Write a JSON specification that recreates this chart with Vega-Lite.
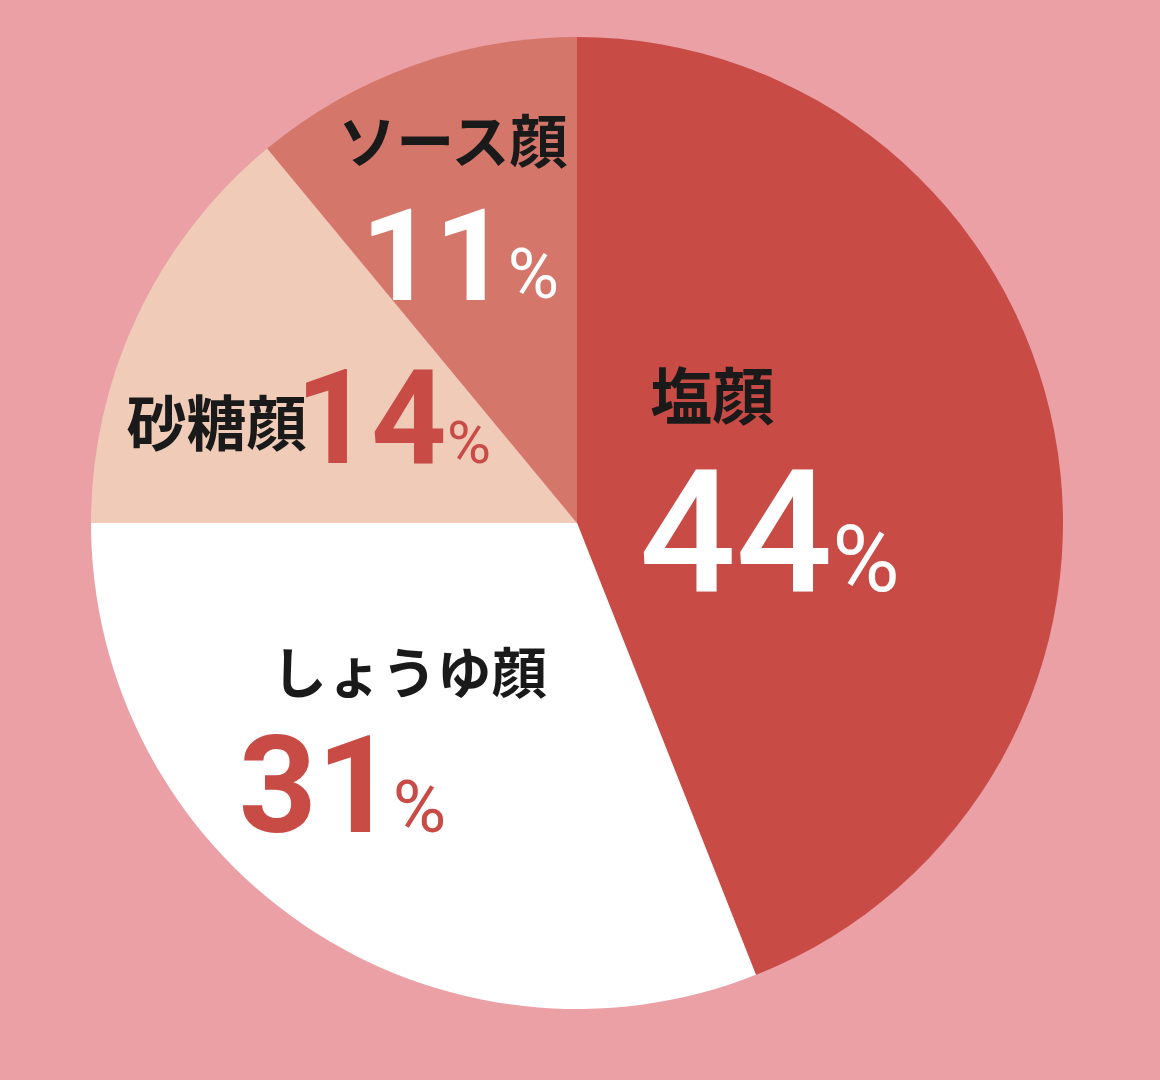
{
  "$schema": "https://vega.github.io/schema/vega-lite/v6.json",
  "width": 1160,
  "height": 1080,
  "autosize": {"type": "fit", "contains": "padding"},
  "padding": {"left": 0, "top": 0, "right": 6, "bottom": 34},
  "background": "#EBA0A6",
  "config": {"view": {"stroke": null}},
  "data": {
    "values": [
      {"category": "塩顔", "value": 44},
      {"category": "しょうゆ顔", "value": 31},
      {"category": "砂糖顔", "value": 14},
      {"category": "ソース顔", "value": 11}
    ]
  },
  "encoding": {
    "theta": {"field": "value", "type": "quantitative", "stack": true},
    "order": {"field": "value", "type": "quantitative", "sort": "descending"},
    "detail": {"field": "category", "type": "nominal"}
  },
  "layer": [
    {
      "mark": {"type": "arc", "outerRadius": 486},
      "encoding": {
        "color": {
          "field": "category",
          "type": "nominal",
          "scale": {
            "domain": ["塩顔", "しょうゆ顔", "砂糖顔", "ソース顔"],
            "range": ["#C94B46", "#FFFFFF", "#EFCBB8", "#D4776A"]
          },
          "legend": null
        }
      }
    },
    {
      "mark": {"type": "text", "radius": 155, "dx": -17, "dy": -93, "align": "center", "baseline": "middle", "font": "Noto Sans CJK JP", "fontWeight": "bold", "fontSize": 62, "color": "#1A1A1A"},
      "encoding": {"text": {"condition": {"test": "datum.category === '塩顔'", "field": "category", "type": "nominal"}, "value": ""}}
    },
    {
      "mark": {"type": "text", "radius": 145, "dx": 113, "dy": 95, "align": "right", "baseline": "alphabetic", "font": "Roboto", "fontWeight": 500, "fontSize": 170, "color": "#FFFFFF"},
      "encoding": {"text": {"condition": {"test": "datum.category === '塩顔'", "field": "value", "type": "quantitative"}, "value": ""}}
    },
    {
      "mark": {"type": "text", "radius": 272, "dx": -12, "dy": 119, "align": "left", "baseline": "alphabetic", "font": "Roboto", "fontWeight": "normal", "fontSize": 92, "color": "#FFFFFF"},
      "encoding": {"text": {"condition": {"test": "datum.category === '塩顔'", "value": "%"}, "value": ""}}
    },
    {
      "mark": {"type": "text", "radius": 396, "dx": 10, "dy": -4, "align": "center", "baseline": "middle", "font": "Noto Sans CJK JP", "fontWeight": "bold", "fontSize": 58, "color": "#1A1A1A"},
      "encoding": {"text": {"condition": {"test": "datum.category === 'ソース顔'", "field": "category", "type": "nominal"}, "value": ""}}
    },
    {
      "mark": {"type": "text", "radius": 254, "dx": 17, "dy": 16, "align": "right", "baseline": "alphabetic", "font": "Roboto", "fontWeight": "bold", "fontSize": 128, "color": "#FFFFFF"},
      "encoding": {"text": {"condition": {"test": "datum.category === 'ソース顔'", "field": "value", "type": "quantitative"}, "value": ""}}
    },
    {
      "mark": {"type": "text", "radius": 225, "dx": 7, "dy": -13, "align": "left", "baseline": "alphabetic", "font": "Roboto", "fontWeight": "normal", "fontSize": 70, "color": "#FFFFFF"},
      "encoding": {"text": {"condition": {"test": "datum.category === 'ソース顔'", "value": "%"}, "value": ""}}
    },
    {
      "mark": {"type": "text", "radius": 362, "dx": -33, "dy": 59, "align": "center", "baseline": "middle", "font": "Noto Sans CJK JP", "fontWeight": "bold", "fontSize": 60, "color": "#1A1A1A"},
      "encoding": {"text": {"condition": {"test": "datum.category === '砂糖顔'", "field": "category", "type": "nominal"}, "value": ""}}
    },
    {
      "mark": {"type": "text", "radius": 207, "dx": 57, "dy": 28, "align": "right", "baseline": "alphabetic", "font": "Roboto", "fontWeight": "bold", "fontSize": 132, "color": "#C94B46"},
      "encoding": {"text": {"condition": {"test": "datum.category === '砂糖顔'", "field": "value", "type": "quantitative"}, "value": ""}}
    },
    {
      "mark": {"type": "text", "radius": 125, "dx": -17, "dy": -7, "align": "left", "baseline": "alphabetic", "font": "Roboto", "fontWeight": "normal", "fontSize": 60, "color": "#C94B46"},
      "encoding": {"text": {"condition": {"test": "datum.category === '砂糖顔'", "value": "%"}, "value": ""}}
    },
    {
      "mark": {"type": "text", "radius": 222, "dx": -43, "dy": -31, "align": "center", "baseline": "middle", "font": "Noto Sans CJK JP", "fontWeight": "bold", "fontSize": 55, "color": "#1A1A1A"},
      "encoding": {"text": {"condition": {"test": "datum.category === 'しょうゆ顔'", "field": "category", "type": "nominal"}, "value": ""}}
    },
    {
      "mark": {"type": "text", "radius": 397, "dx": 41, "dy": -19, "align": "right", "baseline": "alphabetic", "font": "Roboto", "fontWeight": "bold", "fontSize": 136, "color": "#C94B46"},
      "encoding": {"text": {"condition": {"test": "datum.category === 'しょうゆ顔'", "field": "value", "type": "quantitative"}, "value": ""}}
    },
    {
      "mark": {"type": "text", "radius": 349, "dx": 12, "dy": 20, "align": "left", "baseline": "alphabetic", "font": "Roboto", "fontWeight": "normal", "fontSize": 73, "color": "#C94B46"},
      "encoding": {"text": {"condition": {"test": "datum.category === 'しょうゆ顔'", "value": "%"}, "value": ""}}
    }
  ]
}
